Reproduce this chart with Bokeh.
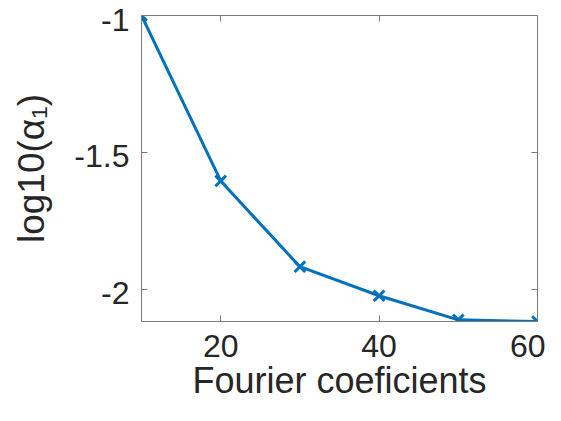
from bokeh.plotting import figure
from bokeh.models import Range1d, LinearAxis, FixedTicker
from bokeh.embed import file_html
from bokeh.resources import INLINE

coefs = [10, 20, 30, 40, 50, 60]
log_alpha = [-1.0, -1.604, -1.917, -2.023, -2.111, -2.117]
x_ticks = [20, 40, 60]
y_ticks = [-2, -1.5, -1]
y_tick_labels = ["-2", "-1.5", "-1"]
x_title = "Fourier coeficients"
y_title = "log10(α₁)"

FONT = "Liberation Sans"
AX = "#7a7a7a"
TXT = "#262626"
BLUE = "#0072BD"

W, H = 545, 405
BL, BR, BT, BB = 141, 8, 15, 84
frame_h = H - BT - BB

xr = Range1d(min(coefs), max(coefs))
yr = Range1d(min(log_alpha), max(log_alpha))
# range used only to draw the y tick labels a few px below their ticks (as MATLAB does)
nudge = 4 * (yr.end - yr.start) / frame_h
p = figure(width=W, height=H, output_backend="svg", toolbar_location=None,
           x_range=xr, y_range=yr,
           min_border_left=BL, min_border_right=BR, min_border_top=BT, min_border_bottom=BB)
p.extra_y_ranges = {"labels": Range1d(yr.start + nudge, yr.end + nudge)}
p.grid.visible = False
p.outline_line_color = None
p.background_fill_color = "white"
p.border_fill_color = "white"

p.line(coefs, log_alpha, line_color=BLUE, line_width=3)
p.scatter(coefs, log_alpha, marker="x", size=15, line_color=BLUE, line_width=3)


def frame_axis(ax, ticks):
    ax.ticker = FixedTicker(ticks=ticks)
    ax.axis_line_color = AX
    ax.major_tick_line_color = AX
    ax.major_tick_in = 6
    ax.major_tick_out = 0
    ax.minor_tick_line_color = None


frame_axis(p.xaxis[0], x_ticks)
p.xaxis.major_label_text_font = FONT
p.xaxis.major_label_text_font_size = "32px"
p.xaxis.major_label_text_color = TXT
p.xaxis.major_label_standoff = 13
p.xaxis.axis_label = x_title
p.xaxis.axis_label_text_font = FONT
p.xaxis.axis_label_text_font_size = "36px"
p.xaxis.axis_label_text_font_style = "normal"
p.xaxis.axis_label_text_color = TXT
p.xaxis.axis_label_standoff = 0

frame_axis(p.yaxis[0], y_ticks)
p.yaxis.major_label_text_font_size = "1px"
p.yaxis.major_label_text_color = None
p.yaxis.major_label_standoff = 0

ylab = LinearAxis(y_range_name="labels", ticker=FixedTicker(ticks=y_ticks))
ylab.major_label_overrides = dict(zip(y_ticks, y_tick_labels))
ylab.axis_line_color = None
ylab.major_tick_line_color = None
ylab.minor_tick_line_color = None
ylab.major_tick_in = 0
ylab.major_tick_out = 0
ylab.major_label_standoff = 12
ylab.major_label_text_font = FONT
ylab.major_label_text_font_size = "32px"
ylab.major_label_text_color = TXT
ylab.axis_label = y_title
ylab.axis_label_text_font = FONT
ylab.axis_label_text_font_size = "37px"
ylab.axis_label_text_font_style = "normal"
ylab.axis_label_text_color = TXT
ylab.axis_label_standoff = 19
p.add_layout(ylab, "left")

top = LinearAxis()
right = LinearAxis()
frame_axis(top, x_ticks)
frame_axis(right, y_ticks)
for ax in [top, right]:
    ax.major_label_text_font_size = "1px"
    ax.major_label_text_color = None
    ax.major_label_standoff = 0
p.add_layout(top, "above")
p.add_layout(right, "right")

open("out.html", "w").write(file_html(p, INLINE))
